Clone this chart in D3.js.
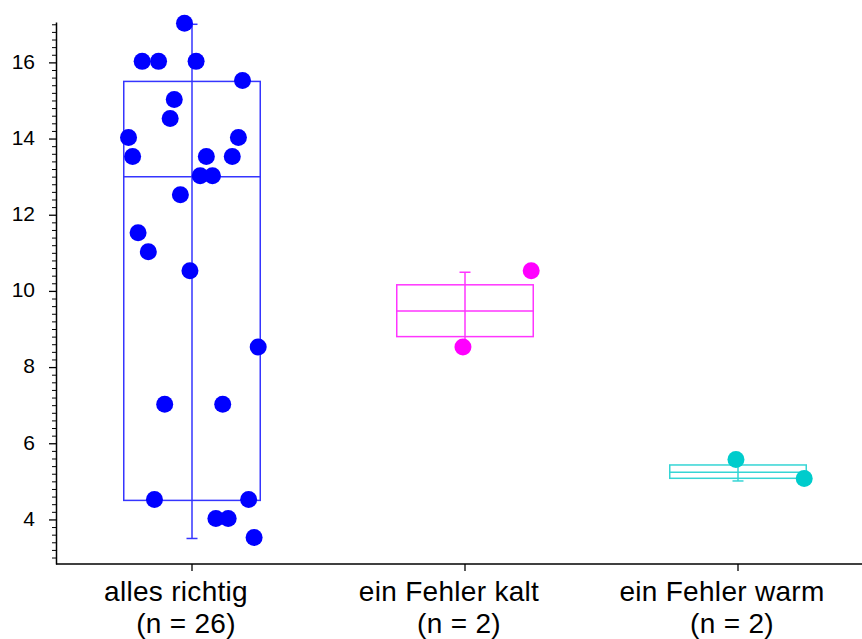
<!DOCTYPE html>
<html>
<head>
<meta charset="utf-8">
<script src="https://cdn.jsdelivr.net/npm/d3@7"></script>
<style>
    body { margin: 0; background: #fff; }
    svg { display: block; font-family: "Liberation Sans", Arial, sans-serif; }
    .axis path, .axis line { stroke: #000; }
</style>
</head>
<body>
<script>
// groups and their counts
const groups = ["alles richtig", "ein Fehler kalt", "ein Fehler warm"];
const groupN = [26, 2, 2];

// raw observations per group
const values = [
    [17, 16, 16, 16, 15.5, 15, 14.5, 14, 14, 13.5, 13.5, 13.5, 13, 13, 12.5, 11.5, 11, 10.5, 8.5, 7, 7, 4.5, 4.5, 4, 4, 3.5],
    [8.5, 10.5],
    [5.55, 5.05]
];
// horizontal jitter of each point, as share of half box width
const jitter = [
    [-0.11, -0.73, -0.49, 0.06, 0.74, -0.26, -0.32, -0.93, 0.68, -0.87, 0.21, 0.59, 0.12, 0.30, -0.17, -0.79, -0.64, -0.03, 0.97, -0.40, 0.45, -0.55, 0.83, 0.35, 0.53, 0.91],
    [-0.03, 0.97],
    [-0.03, 0.97]
];

// box statistics as drawn
const boxLow = [4.5, 8.8, 5.08];
const boxMid = [13, 9.47, 5.24];
const boxHigh = [15.5, 10.16, 5.43];
const whiskerLow = [3.5, 8.5, 5.01];
const whiskerHigh = [17, 10.49, 5.54];

// y ticks
const majorTicks = [4, 6, 8, 10, 12, 14, 16];
const minorTicks = d3.range(30, 171, 2).map(d => d / 10).filter(d => majorTicks.indexOf(d) < 0);

const dotColors = ["#0000ff", "#ff00ff", "#00cccc"];
const boxColors = ["#3535ff", "#ff35ff", "#35d5d5"];

function init() {
    const width = 862, height = 639;
    const left = 56, top = 22, bottom = 564;

    const svg = d3.select("body").append("svg")
        .attr("width", width)
        .attr("height", height);

    //scales
    const yScale = d3.scaleLinear().domain([2.83, 17.06]).range([bottom, top]);
    const xScale = d3.scaleBand().domain(groups).range([left - 0.5, left - 0.5 + 273 * 3]).padding(0);
    const half = xScale.bandwidth() / 4;
    const cx = g => xScale(g) + xScale.bandwidth() / 2;

    //minor y ticks
    svg.append("g")
        .attr("class", "axis")
        .attr("transform", "translate(" + left + ",0)")
        .call(d3.axisLeft(yScale).tickValues(minorTicks).tickSize(4).tickFormat(""))
        .call(g => g.select(".domain").remove())
        .selectAll("line").attr("stroke-width", 1);

    //major y ticks
    const yAxis = svg.append("g")
        .attr("class", "axis")
        .attr("transform", "translate(" + left + ",0)")
        .call(d3.axisLeft(yScale).tickValues(majorTicks).tickSize(7).tickPadding(14).tickSizeOuter(0));
    yAxis.select(".domain").attr("stroke-width", 1.5);
    yAxis.selectAll("line").attr("stroke-width", 1.3);
    yAxis.selectAll("text").attr("font-size", 21).attr("fill", "#000").attr("dy", "0.28em");

    //x axis
    const xAxis = svg.append("g")
        .attr("class", "axis")
        .attr("transform", "translate(0," + bottom + ")")
        .call(d3.axisBottom(xScale).tickSize(7).tickFormat("").tickSizeOuter(0));
    xAxis.select(".domain").attr("d", "M" + left + ",0H" + width).attr("stroke-width", 1.5);
    xAxis.selectAll("line").attr("stroke-width", 1.3);

    //category labels
    const labels = svg.append("g").selectAll("text")
        .data(groups)
        .join("text")
        .attr("text-anchor", "middle")
        .attr("font-size", 28)
        .attr("letter-spacing", 0.3)
        .attr("fill", "#000");
    labels.append("tspan")
        .attr("x", d => cx(d) - 16)
        .attr("y", 601)
        .text(d => d);
    labels.append("tspan")
        .attr("x", d => cx(d) - 6)
        .attr("y", 633)
        .text((d, i) => "(n = " + groupN[i] + ")");

    //boxes and whiskers
    groups.forEach(function (g, i) {
        const c = cx(g);
        const box = svg.append("g")
            .attr("fill", "none")
            .attr("stroke", boxColors[i])
            .attr("stroke-width", 1.5);

        box.append("rect")
            .attr("x", c - half)
            .attr("y", yScale(boxHigh[i]))
            .attr("width", half * 2)
            .attr("height", yScale(boxLow[i]) - yScale(boxHigh[i]));

        box.append("line")
            .attr("x1", c - half).attr("x2", c + half)
            .attr("y1", yScale(boxMid[i])).attr("y2", yScale(boxMid[i]));

        box.append("line")
            .attr("x1", c).attr("x2", c)
            .attr("y1", yScale(whiskerLow[i])).attr("y2", yScale(whiskerHigh[i]));

        [whiskerLow[i], whiskerHigh[i]].forEach(function (v) {
            box.append("line")
                .attr("x1", c - 5.5).attr("x2", c + 5.5)
                .attr("y1", yScale(v)).attr("y2", yScale(v));
        });

        //points
        svg.append("g").selectAll("circle")
            .data(values[i])
            .join("circle")
            .attr("cx", (d, j) => c + jitter[i][j] * half)
            .attr("cy", d => yScale(d) - 1)
            .attr("r", 8.5)
            .attr("fill", dotColors[i]);
    });
}

window.onload = init;
</script>
</body>
</html>
